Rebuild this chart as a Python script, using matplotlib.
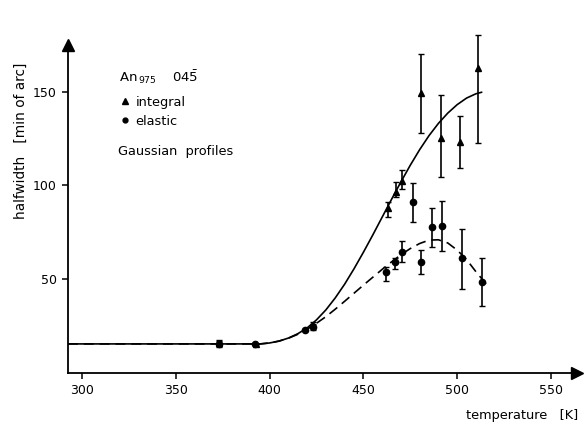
import matplotlib
matplotlib.use("Agg")
import matplotlib.pyplot as plt
import numpy as np
from matplotlib.lines import Line2D

# ---------------- data ----------------
x_ticks = [300, 350, 400, 450, 500, 550]
y_ticks = [50, 100, 150]

# integral (triangles)
int_T  = np.array([373.0, 393.0, 423.0, 463.3, 467.2, 470.4, 480.7, 491.5, 501.5, 511.3])
int_v  = np.array([16.0, 15.5, 25.5, 88.0, 96.5, 102.5, 149.0, 125.0, 123.0, 162.8])
int_lo = np.array([14.5, 15.5, 24.0, 83.3, 94.0, 98.0, 127.8, 104.6, 109.0, 122.8])
int_hi = np.array([17.5, 15.5, 27.0, 91.3, 101.8, 108.0, 170.0, 148.0, 137.0, 180.0])

# elastic (circles)
el_T  = np.array([373.0, 392.0, 419.0, 423.0, 461.9, 466.8, 470.7, 476.5, 480.9, 486.7, 491.7, 502.7, 513.0])
el_v  = np.array([15.5, 15.3, 23.0, 24.5, 54.0, 59.0, 64.7, 91.0, 59.3, 78.0, 78.6, 61.5, 48.7])
el_lo = np.array([14.0, 15.3, 23.0, 23.0, 48.9, 55.3, 59.3, 80.6, 53.0, 67.3, 65.2, 44.8, 35.9])
el_hi = np.array([17.0, 15.3, 23.0, 26.0, 56.5, 61.5, 70.5, 101.0, 65.5, 87.8, 91.8, 76.8, 61.2])

# solid curve (integral fit)
fit_int_T = [292.5, 395, 400, 405, 410, 415, 420, 425, 430, 435, 440, 445, 450, 455,
             460, 465, 470, 475, 480, 485, 490, 495, 500, 505, 510, 513]
fit_int_v = [15.5, 15.5, 16.0, 17.0, 18.6, 20.9, 24.0, 28.3, 33.6, 40.0, 47.3, 55.5,
             64.3, 73.5, 83.0, 92.5, 101.8, 110.7, 119.0, 126.5, 133.0, 138.5, 143.0,
             146.5, 148.8, 149.6]

# dashed curve (elastic fit)
fit_el_T = [292.5, 395, 400, 405, 410, 415, 420, 425, 430, 435, 440, 445, 450, 455,
            460, 465, 470, 475, 480, 485, 490, 495, 500, 505, 510, 515.4]
fit_el_v = [15.5, 15.5, 16.0, 17.0, 18.5, 20.6, 23.3, 26.5, 30.0, 34.0, 38.2, 42.5,
            46.8, 51.0, 55.2, 59.2, 63.0, 66.3, 69.0, 70.8, 71.0, 69.3, 65.5, 60.5,
            54.0, 47.5]

# ---------------- figure ----------------
W, H = 584, 434
fig = plt.figure(figsize=(W / 100, H / 100), dpi=100)
left_px, right_px, bottom_px, top_px = 68, 577, 373, 45
ax = fig.add_axes([left_px / W, 1 - bottom_px / H,
                   (right_px - left_px) / W, (bottom_px - top_px) / H])
ax.set_xlim(292.54, 563.9)
ax.set_ylim(0, 174.8)

FONT = "DejaVu Sans"
FS = 9.0

ax.plot(fit_int_T, fit_int_v, color="k", lw=1.2, zorder=3)
ax.plot(fit_el_T, fit_el_v, color="k", lw=1.2, ls=(0, (6, 3.5)), zorder=3)

for T, v, lo, hi, mk, ms in [(int_T, int_v, int_lo, int_hi, "^", 5),
                             (el_T, el_v, el_lo, el_hi, "o", 4.5)]:
    cont = ax.errorbar(T, v, yerr=[v - lo, hi - v], fmt=mk, color="k", ms=ms,
                       capsize=2.4, elinewidth=1.2, capthick=1.0, zorder=4)
    for art in cont.get_children():
        art.set_clip_on(False)

for s in ["top", "right"]:
    ax.spines[s].set_visible(False)
for s in ["left", "bottom"]:
    ax.spines[s].set_linewidth(1.3)

ax.plot(1, 0, ">", color="k", ms=9, transform=ax.transAxes, clip_on=False)
ax.plot(0, 1, "^", color="k", ms=9, transform=ax.transAxes, clip_on=False)

ax.set_xticks(x_ticks)
ax.set_yticks(y_ticks)
ax.tick_params(direction="out", length=4, width=1.1, pad=4, labelsize=FS)
for lab in ax.get_xticklabels() + ax.get_yticklabels():
    lab.set_family(FONT)

def fx(px):
    return px / W

def fy(py):
    return 1 - py / H

fig.text(fx(21), fy(141), "halfwidth   [min of arc]", rotation=90, ha="center",
         va="center", fontsize=9.8, family=FONT)
fig.text(fx(578), fy(416), "temperature   [K]", ha="right", va="center",
         fontsize=9.3, family=FONT)

fig.text(fx(119), fy(82), r"An$_{\,975}$", ha="left", va="baseline", fontsize=9.5, family=FONT)
fig.text(fx(172), fy(82), r"$\mathrm{04\bar{5}}$", ha="left", va="baseline", fontsize=9.5, family=FONT)

handles = [Line2D([], [], marker="^", color="k", ls="none", ms=4),
           Line2D([], [], marker="o", color="k", ls="none", ms=3.5)]
fig.legend(handles, ["integral", "elastic"], loc="upper left",
           bbox_to_anchor=(fx(120), fy(96)), frameon=False,
           handlelength=0.8, handletextpad=0.4, labelspacing=0.45,
           borderaxespad=0, borderpad=0, prop={"family": FONT, "size": 9.3})
fig.text(fx(118), fy(151), "Gaussian  profiles", ha="left", va="center", fontsize=9.3, family=FONT)

fig.savefig("out.png", dpi=100)
